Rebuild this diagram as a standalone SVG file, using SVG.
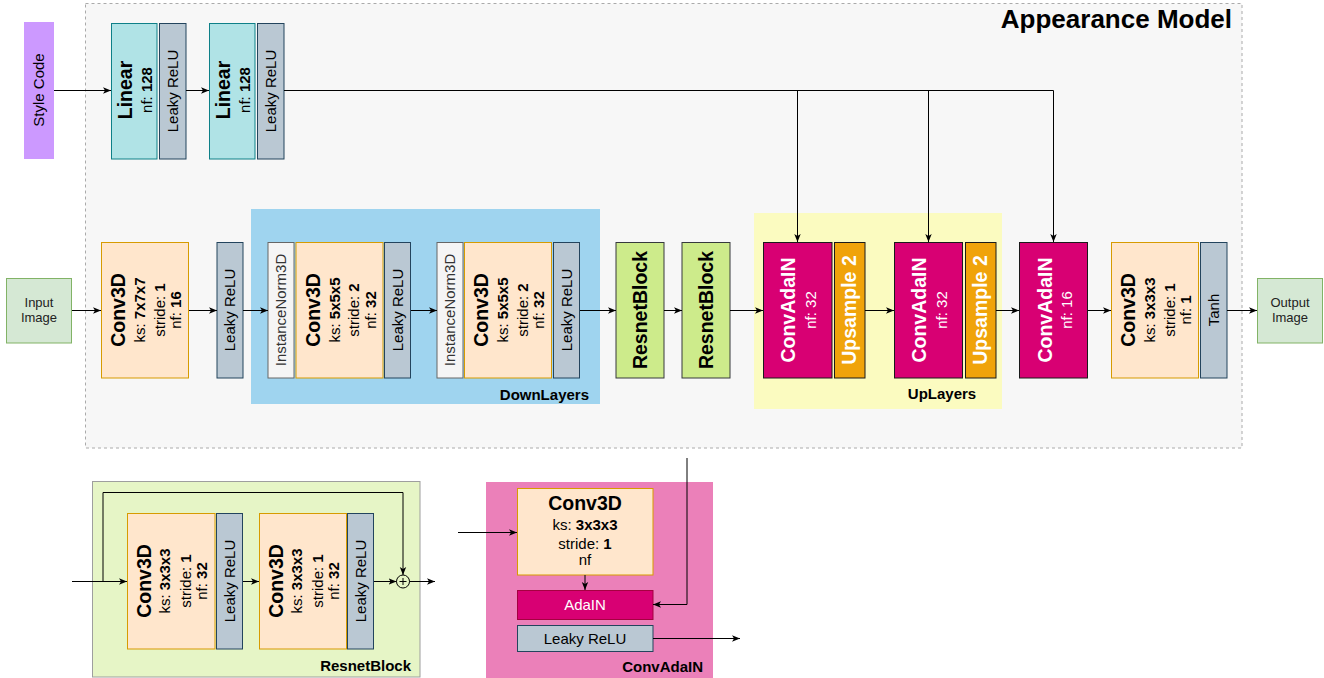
<svg xmlns="http://www.w3.org/2000/svg" width="1324" height="678" viewBox="0 0 1324 678">
<defs>
<style>
.t{font-family:"Liberation Sans",Arial,Helvetica,sans-serif;font-size:15px;fill:#000}
.s13{font-size:13px;fill:#222}
.big{font-size:26px;font-weight:bold}
.b{font-weight:bold}
.ttl{font-size:19.5px;font-weight:bold}
.w{fill:#fff}
.g{fill:#333}
.lin{fill:#b0e3e6;stroke:#0e8088}
.relu{fill:#bac8d3;stroke:#23445d}
.conv{fill:#ffe6cc;stroke:#d79b00}
.inorm{fill:#f5f5f5;stroke:#666}
.res{fill:#cdeb8b;stroke:#36393d}
.cada{fill:#d80073;stroke:#1a1a1a}
.up{fill:#f0a30a;stroke:#1a1a1a}
.img{fill:#d5e8d4;stroke:#82b366}
.c{fill:none;stroke:#000;stroke-width:1;marker-end:url(#ah)}
.cn{fill:none;stroke:#000;stroke-width:1}
</style>
<marker id="ah" viewBox="0 0 10 10" refX="10" refY="5" markerWidth="8" markerHeight="8" markerUnits="userSpaceOnUse" orient="auto">
<path d="M0,1 L10,5 L0,9 L2.5,5 Z" fill="#000"/>
</marker>
</defs>

<g id="appearance-model">
<rect x="85.5" y="3.5" width="1156.5" height="444.5" fill="#f7f7f7" stroke="#aaaaaa" stroke-dasharray="3,3"/>
<text class="t big" x="1232" y="28" text-anchor="end">Appearance Model</text>
</g>

<g id="downlayers-group">
<rect x="251" y="209" width="349" height="195" fill="#9fd4ef"/>
<text class="t b" x="589" y="400" text-anchor="end">DownLayers</text>
</g>
<g id="uplayers-group">
<rect x="754" y="213" width="248" height="196" fill="#fbfbc0"/>
<text class="t b" x="942" y="399" text-anchor="middle">UpLayers</text>
</g>

<g id="style-code">
<rect x="24" y="22" width="30" height="137" fill="#cc99ff"/>
<text class="t" transform="translate(39,90) rotate(-90)" text-anchor="middle" y="5">Style Code</text>
</g>

<g id="linear1">
<rect class="lin" x="111.5" y="23.5" width="45.5" height="135.5"/>
<text class="t" transform="translate(134,90) rotate(-90)" text-anchor="middle"><tspan x="0" y="-2.3" class="ttl">Linear</tspan><tspan x="0" y="17.7">nf: <tspan class="b">128</tspan></tspan></text>
</g>
<g id="relu-lin1">
<rect class="relu" x="159.5" y="23.5" width="26.5" height="135.5"/>
<text class="t" transform="translate(172.7,91) rotate(-90)" text-anchor="middle" y="5.3">Leaky ReLU</text>
</g>
<g id="linear2">
<rect class="lin" x="209.5" y="23.5" width="45.5" height="135.5"/>
<text class="t" transform="translate(232,90) rotate(-90)" text-anchor="middle"><tspan x="0" y="-2.3" class="ttl">Linear</tspan><tspan x="0" y="17.7">nf: <tspan class="b">128</tspan></tspan></text>
</g>
<g id="relu-lin2">
<rect class="relu" x="257.5" y="23.5" width="26.5" height="135.5"/>
<text class="t" transform="translate(270.7,91) rotate(-90)" text-anchor="middle" y="5.3">Leaky ReLU</text>
</g>

<g id="input-image">
<rect class="img" x="6.5" y="278.5" width="65" height="64.5"/>
<text class="t s13" x="39" y="307" text-anchor="middle">Input</text>
<text class="t s13" x="39" y="322" text-anchor="middle">Image</text>
</g>

<g id="conv1">
<rect class="conv" x="101.5" y="242.5" width="87" height="135.5"/>
<text class="t" transform="translate(145,310) rotate(-90)" text-anchor="middle"><tspan x="0" y="-20" class="ttl">Conv3D</tspan><tspan x="0" y="0">ks: <tspan class="b">7x7x7</tspan></tspan><tspan x="0" y="19.5">stride: <tspan class="b">1</tspan></tspan><tspan x="0" y="36">nf: <tspan class="b">16</tspan></tspan></text>
</g>
<g id="relu1">
<rect class="relu" x="217" y="242.5" width="26" height="135.5"/>
<text class="t" transform="translate(230,310) rotate(-90)" text-anchor="middle" y="5.3">Leaky ReLU</text>
</g>

<g id="inorm1">
<rect class="inorm" x="268" y="242.5" width="26" height="135.5"/>
<text class="t g" transform="translate(281,310) rotate(-90)" text-anchor="middle" y="5.4">InstanceNorm3D</text>
</g>
<g id="conv2">
<rect class="conv" x="296" y="242.5" width="87" height="135.5"/>
<text class="t" transform="translate(339.5,310) rotate(-90)" text-anchor="middle"><tspan x="0" y="-20" class="ttl">Conv3D</tspan><tspan x="0" y="0">ks: <tspan class="b">5x5x5</tspan></tspan><tspan x="0" y="19.5">stride: <tspan class="b">2</tspan></tspan><tspan x="0" y="36">nf: <tspan class="b">32</tspan></tspan></text>
</g>
<g id="relu2">
<rect class="relu" x="384.5" y="242.5" width="26" height="135.5"/>
<text class="t" transform="translate(397.5,310) rotate(-90)" text-anchor="middle" y="5.3">Leaky ReLU</text>
</g>
<g id="inorm2">
<rect class="inorm" x="437" y="242.5" width="26" height="135.5"/>
<text class="t g" transform="translate(450,310) rotate(-90)" text-anchor="middle" y="5.4">InstanceNorm3D</text>
</g>
<g id="conv3">
<rect class="conv" x="464.5" y="242.5" width="87" height="135.5"/>
<text class="t" transform="translate(508,310) rotate(-90)" text-anchor="middle"><tspan x="0" y="-20" class="ttl">Conv3D</tspan><tspan x="0" y="0">ks: <tspan class="b">5x5x5</tspan></tspan><tspan x="0" y="19.5">stride: <tspan class="b">2</tspan></tspan><tspan x="0" y="36">nf: <tspan class="b">32</tspan></tspan></text>
</g>
<g id="relu3">
<rect class="relu" x="553.5" y="242.5" width="26" height="135.5"/>
<text class="t" transform="translate(566.5,310) rotate(-90)" text-anchor="middle" y="5.3">Leaky ReLU</text>
</g>

<g id="resnet1">
<rect class="res" x="616" y="242.5" width="48" height="135.5"/>
<text class="t ttl" transform="translate(640,310) rotate(-90)" text-anchor="middle" y="6.8">ResnetBlock</text>
</g>
<g id="resnet2">
<rect class="res" x="682" y="242.5" width="48" height="135.5"/>
<text class="t ttl" transform="translate(706,310) rotate(-90)" text-anchor="middle" y="6.8">ResnetBlock</text>
</g>

<g id="convadain1">
<rect class="cada" x="763.5" y="242.5" width="68.5" height="135.5"/>
<text class="t w" transform="translate(797.5,310) rotate(-90)" text-anchor="middle"><tspan x="0" y="-2.5" class="ttl">ConvAdaIN</tspan><tspan x="0" y="18.5">nf: 32</tspan></text>
</g>
<g id="upsample1">
<rect class="up" x="834.5" y="242.5" width="30.5" height="135.5"/>
<text class="t w ttl" transform="translate(849.7,310) rotate(-90)" text-anchor="middle" y="6.3">Upsample 2</text>
</g>
<g id="convadain2">
<rect class="cada" x="894.5" y="242.5" width="68" height="135.5"/>
<text class="t w" transform="translate(928.5,310) rotate(-90)" text-anchor="middle"><tspan x="0" y="-2.5" class="ttl">ConvAdaIN</tspan><tspan x="0" y="18.5">nf: 32</tspan></text>
</g>
<g id="upsample2">
<rect class="up" x="965.5" y="242.5" width="30.5" height="135.5"/>
<text class="t w ttl" transform="translate(980.7,310) rotate(-90)" text-anchor="middle" y="6.3">Upsample 2</text>
</g>
<g id="convadain3">
<rect class="cada" x="1019.5" y="242.5" width="68" height="135.5"/>
<text class="t w" transform="translate(1053.5,310) rotate(-90)" text-anchor="middle"><tspan x="0" y="-2" class="ttl">ConvAdaIN</tspan><tspan x="0" y="18">nf: 16</tspan></text>
</g>

<g id="conv4">
<rect class="conv" x="1111.5" y="242.5" width="87" height="135.5"/>
<text class="t" transform="translate(1155,310) rotate(-90)" text-anchor="middle"><tspan x="0" y="-20" class="ttl">Conv3D</tspan><tspan x="0" y="0">ks: <tspan class="b">3x3x3</tspan></tspan><tspan x="0" y="19.5">stride: <tspan class="b">1</tspan></tspan><tspan x="0" y="36">nf: <tspan class="b">1</tspan></tspan></text>
</g>
<g id="tanh">
<rect class="relu" x="1200.5" y="242.5" width="26.5" height="135.5"/>
<text class="t" transform="translate(1213.7,310) rotate(-90)" text-anchor="middle" y="5.3">Tanh</text>
</g>

<g id="output-image">
<rect class="img" x="1257.5" y="278.5" width="65" height="64.5"/>
<text class="t s13" x="1290" y="307" text-anchor="middle">Output</text>
<text class="t s13" x="1290" y="322" text-anchor="middle">Image</text>
</g>

<g id="resnetblock-detail">
<rect x="92.5" y="481.5" width="327.5" height="195.5" fill="#e6f5c6" stroke="#9e9e9e"/>
<text class="t b" x="411" y="671" text-anchor="end">ResnetBlock</text>
</g>
<g id="rb-conv-a">
<rect class="conv" x="127.5" y="513.5" width="87.5" height="135.5"/>
<text class="t" transform="translate(171,581) rotate(-90)" text-anchor="middle"><tspan x="0" y="-20" class="ttl">Conv3D</tspan><tspan x="0" y="-1">ks: <tspan class="b">3x3x3</tspan></tspan><tspan x="0" y="19.5">stride: <tspan class="b">1</tspan></tspan><tspan x="0" y="36">nf: <tspan class="b">32</tspan></tspan></text>
</g>
<g id="rb-relu-a">
<rect class="relu" x="216.5" y="513.5" width="26" height="135.5"/>
<text class="t" transform="translate(229.5,581) rotate(-90)" text-anchor="middle" y="5.3">Leaky ReLU</text>
</g>
<g id="rb-conv-b">
<rect class="conv" x="259.5" y="513.5" width="87" height="135.5"/>
<text class="t" transform="translate(303,581) rotate(-90)" text-anchor="middle"><tspan x="0" y="-20" class="ttl">Conv3D</tspan><tspan x="0" y="-1">ks: <tspan class="b">3x3x3</tspan></tspan><tspan x="0" y="19.5">stride: <tspan class="b">1</tspan></tspan><tspan x="0" y="36">nf: <tspan class="b">32</tspan></tspan></text>
</g>
<g id="rb-relu-b">
<rect class="relu" x="347.5" y="513.5" width="26" height="135.5"/>
<text class="t" transform="translate(360.5,581) rotate(-90)" text-anchor="middle" y="5.3">Leaky ReLU</text>
</g>
<g id="rb-add">
<circle cx="403" cy="581.5" r="6.5" fill="none" stroke="#000"/>
<path d="M399.5,581.5 H406.5 M403,578 V585" stroke="#000" fill="none"/>
</g>

<g id="convadain-detail">
<rect x="486" y="482" width="227" height="196" fill="#eb80b9"/>
<text class="t b" x="703" y="671.5" text-anchor="end">ConvAdaIN</text>
</g>
<g id="ca-conv">
<rect class="conv" x="517.5" y="488.5" width="135.5" height="86.5"/>
<text class="t ttl" x="585" y="509.5" text-anchor="middle">Conv3D</text>
<text class="t" x="585" y="530" text-anchor="middle">ks: <tspan class="b">3x3x3</tspan></text>
<text class="t" x="585" y="549" text-anchor="middle">stride: <tspan class="b">1</tspan></text>
<text class="t" x="585" y="565" text-anchor="middle">nf</text>
</g>
<g id="ca-adain">
<rect x="517.5" y="590.5" width="135.5" height="29" fill="#d80073" stroke="#a50040"/>
<text class="t w" x="585" y="610" text-anchor="middle">AdaIN</text>
</g>
<g id="ca-relu">
<rect class="relu" x="517.5" y="625.5" width="135.5" height="26"/>
<text class="t" x="585" y="643.5" text-anchor="middle">Leaky ReLU</text>
</g>

<g id="connectors">
<path class="c" d="M54,90.5 H111"/>
<path class="c" d="M186,90.5 H209"/>
<path class="cn" d="M284,90.5 H1053.5"/>
<path class="c" d="M797.5,90.5 V242"/>
<path class="c" d="M928.5,90.5 V242"/>
<path class="c" d="M1053.5,90.5 V242"/>
<path class="c" d="M72,310.5 H101"/>
<path class="c" d="M189,310.5 H217"/>
<path class="c" d="M243,310.5 H268"/>
<path class="c" d="M411,310.5 H437"/>
<path class="c" d="M580,310.5 H616"/>
<path class="c" d="M664,310.5 H682"/>
<path class="c" d="M730,310.5 H763"/>
<path class="c" d="M865,310.5 H894"/>
<path class="c" d="M996,310.5 H1019"/>
<path class="c" d="M1088,310.5 H1111"/>
<path class="c" d="M1227,310.5 H1257"/>
<path class="c" d="M72,581.5 H127"/>
<path class="c" d="M103,581.5 V492.5 H403 V575"/>
<path class="c" d="M243,581.5 H259"/>
<path class="c" d="M374,581.5 H396.5"/>
<path class="c" d="M409.5,581.5 H435"/>
<path class="c" d="M458,532.5 H517"/>
<path class="c" d="M585,575 V590"/>
<path class="c" d="M687,458 V604.5 H653"/>
<path class="c" d="M653,638.5 H740"/>
</g>
</svg>
